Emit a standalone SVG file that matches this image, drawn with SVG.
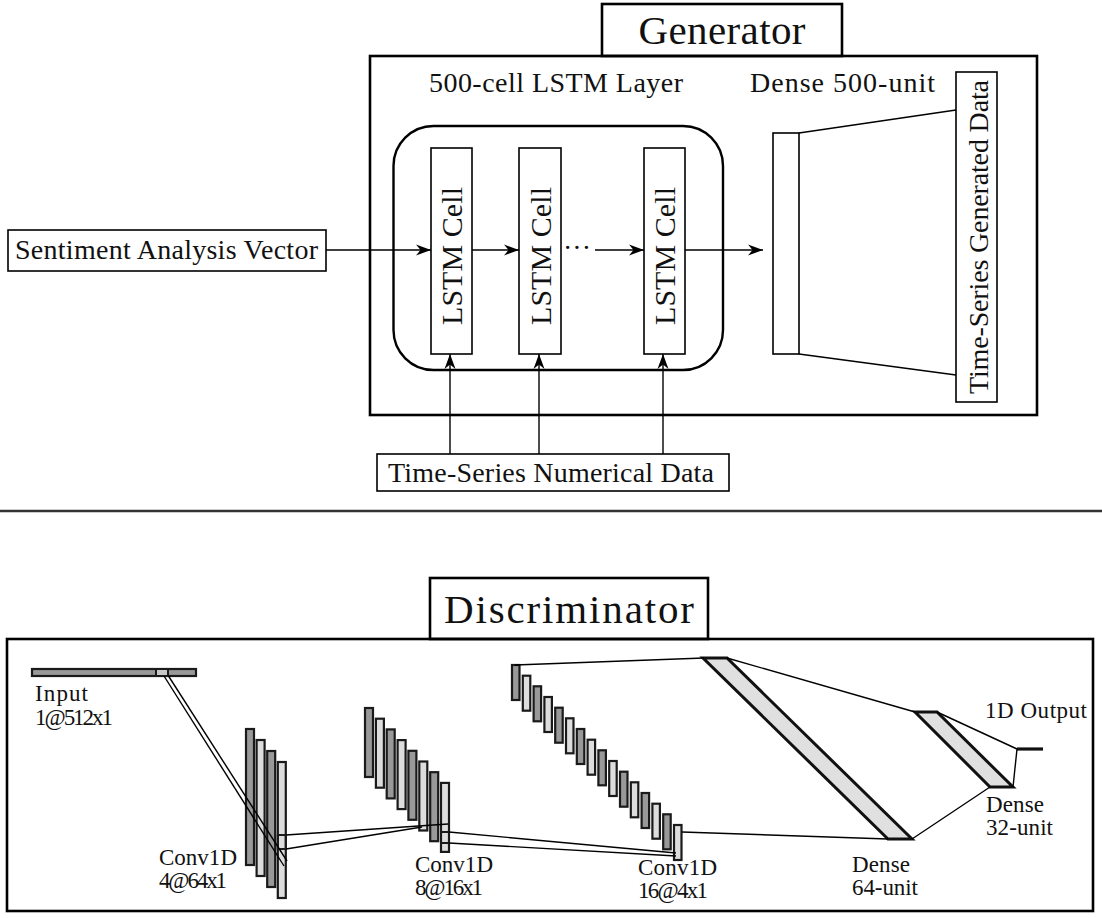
<svg xmlns="http://www.w3.org/2000/svg" width="1102" height="918" viewBox="0 0 1102 918">
<defs>
<marker id="arr" viewBox="-16 -8 18 16" refX="0" refY="0" markerWidth="18" markerHeight="16" markerUnits="userSpaceOnUse" orient="auto">
<path d="M0,0 L-15,-5.5 L-10.5,0 L-15,5.5 Z" fill="#000"/>
</marker>
</defs>
<style>
text{font-family:"Liberation Serif","Times New Roman",serif;fill:#111}
.t{font-size:41px}
.m{font-size:28px}
.c{font-size:30px}
.s{font-size:23px}
.box{fill:#fff;stroke:#000;stroke-width:1.6}
.outer{fill:none;stroke:#000;stroke-width:2.6}
.ln{fill:none;stroke:#000;stroke-width:1.4}
.ar{fill:none;stroke:#000;stroke-width:1.4;marker-end:url(#arr)}
.g{fill:#999;stroke:#1a1a1a;stroke-width:2.2}
.l{fill:#ddd;stroke:#1a1a1a;stroke-width:2.2}
.dn{fill:#e0e0e0;stroke:#111;stroke-width:3}
</style>
<rect width="1102" height="918" fill="#fff"/>

<!-- Generator -->
<g id="generator">
<rect class="outer" x="370" y="56" width="667" height="359"/>
<rect class="outer" x="602" y="4" width="240" height="52" fill="#fff"/>
<text class="t" x="722" y="44" text-anchor="middle" textLength="167">Generator</text>
<text class="m" x="429" y="92" textLength="254">500-cell LSTM Layer</text>
<text class="m" x="750" y="92" textLength="185">Dense 500-unit</text>
</g>
<g id="lstm-layer">
<rect x="393.5" y="126" width="329.5" height="244" rx="40" ry="40" fill="none" stroke="#000" stroke-width="2.4"/>
</g>
<g id="cell1">
<rect class="box" x="431" y="148" width="41" height="206"/>
<text class="c" transform="translate(462,256) rotate(-90)" text-anchor="middle" textLength="138">LSTM Cell</text>
</g>
<g id="cell2">
<rect class="box" x="519" y="148" width="42" height="206"/>
<text class="c" transform="translate(550.5,256) rotate(-90)" text-anchor="middle" textLength="138">LSTM Cell</text>
</g>
<g id="cell3">
<rect class="box" x="644" y="148" width="41" height="206"/>
<text class="c" transform="translate(675,256) rotate(-90)" text-anchor="middle" textLength="138">LSTM Cell</text>
</g>
<g id="dense500">
<rect class="box" x="773" y="133" width="26" height="221"/>
</g>
<g id="generated-data">
<rect class="box" x="956" y="72" width="41" height="330"/>
<text class="m" transform="translate(987.5,237) rotate(-90)" text-anchor="middle" textLength="314">Time-Series Generated Data</text>
</g>
<g id="sentiment">
<rect class="box" x="8" y="230" width="318" height="41"/>
<text class="m" x="15" y="259" textLength="303">Sentiment Analysis Vector</text>
</g>
<g id="numerical">
<rect class="box" x="377" y="454" width="352" height="37"/>
<text class="m" x="388" y="482" textLength="326">Time-Series Numerical Data</text>
</g>
<g id="gen-connectors">
<line class="ar" x1="326" y1="250" x2="431" y2="250"/>
<line class="ar" x1="472" y1="250" x2="519" y2="250"/>
<text class="m" x="577" y="257" text-anchor="middle">···</text>
<line class="ar" x1="595" y1="250" x2="644" y2="250"/>
<line class="ar" x1="685" y1="250" x2="763" y2="250"/>
<line class="ar" x1="450" y1="454" x2="450" y2="354"/>
<line class="ar" x1="539" y1="454" x2="539" y2="354"/>
<line class="ar" x1="663" y1="454" x2="663" y2="354"/>
<line class="ln" x1="799" y1="133" x2="956" y2="110"/>
<line class="ln" x1="799" y1="354" x2="956" y2="375"/>
</g>

<line x1="0" y1="511" x2="1102" y2="511" stroke="#333" stroke-width="2.5"/>

<!-- Discriminator -->
<g id="discriminator">
<rect class="outer" x="7" y="639" width="1086" height="272"/>
<rect class="outer" x="430" y="578" width="278" height="61" fill="#fff"/>
<text class="t" x="569" y="623" text-anchor="middle" textLength="250">Discriminator</text>
</g>
<g id="input">
<rect class="g" x="32" y="669" width="164" height="7"/>
<rect x="156" y="669" width="12" height="7" fill="#c8c8c8" stroke="#1a1a1a" stroke-width="2"/>
<text class="s" x="35" y="701" textLength="53">Input</text>
<text class="s" x="35" y="725" textLength="78">1@512x1</text>
</g>
<g id="conv1">
<rect class="g" x="246" y="729" width="8" height="136"/>
<rect class="l" x="256.6" y="740" width="8" height="136"/>
<rect class="g" x="267.2" y="751" width="8" height="136"/>
<rect class="l" x="277.8" y="762" width="8" height="136"/>
<rect x="277.8" y="835" width="8" height="14" fill="none" stroke="#1a1a1a" stroke-width="2"/>
<text class="s" x="159" y="865" textLength="78">Conv1D</text>
<text class="s" x="159" y="888" textLength="68">4@64x1</text>
</g>
<g id="conv2">
<rect class="g" x="365" y="708" width="8" height="69"/>
<rect class="l" x="375.9" y="718.7" width="8" height="69"/>
<rect class="g" x="386.7" y="729.4" width="8" height="69"/>
<rect class="l" x="397.6" y="740.1" width="8" height="69"/>
<rect class="g" x="408.4" y="750.8" width="8" height="69"/>
<rect class="l" x="419.3" y="761.5" width="8" height="69"/>
<rect class="g" x="430.2" y="772.2" width="8" height="69"/>
<rect class="l" x="441" y="782.9" width="8" height="69"/>
<rect x="441" y="832" width="8" height="11" fill="none" stroke="#1a1a1a" stroke-width="2"/>
<text class="s" x="415" y="872" textLength="78">Conv1D</text>
<text class="s" x="415" y="895" textLength="68">8@16x1</text>
</g>
<g id="conv3">
<rect class="g" x="512" y="665" width="7.5" height="35"/>
<rect class="l" x="522.8" y="675.7" width="7.5" height="35"/>
<rect class="g" x="533.6" y="686.3" width="7.5" height="35"/>
<rect class="l" x="544.4" y="697" width="7.5" height="35"/>
<rect class="g" x="555.2" y="707.7" width="7.5" height="35"/>
<rect class="l" x="566" y="718.3" width="7.5" height="35"/>
<rect class="g" x="576.8" y="729" width="7.5" height="35"/>
<rect class="l" x="587.6" y="739.7" width="7.5" height="35"/>
<rect class="g" x="598.4" y="750.3" width="7.5" height="35"/>
<rect class="l" x="609.2" y="761" width="7.5" height="35"/>
<rect class="g" x="620" y="771.7" width="7.5" height="35"/>
<rect class="l" x="630.8" y="782.3" width="7.5" height="35"/>
<rect class="g" x="641.6" y="793" width="7.5" height="35"/>
<rect class="l" x="652.4" y="803.7" width="7.5" height="35"/>
<rect class="g" x="663.2" y="814.3" width="7.5" height="35"/>
<rect class="l" x="674" y="825" width="7.5" height="35"/>
<text class="s" x="638" y="875" textLength="79">Conv1D</text>
<text class="s" x="638" y="898" textLength="70">16@4x1</text>
</g>
<g id="dense64">
<polygon class="dn" points="703,658 727,658 912,839 888,839"/>
<text class="s" x="852" y="872" textLength="58">Dense</text>
<text class="s" x="852" y="895" textLength="66">64-unit</text>
</g>
<g id="dense32">
<polygon class="dn" points="915,712 937,712 1013,787 990,787"/>
<text class="s" x="986" y="812" textLength="58">Dense</text>
<text class="s" x="986" y="835" textLength="67">32-unit</text>
</g>
<g id="output">
<line x1="1017" y1="749" x2="1043" y2="749" stroke="#111" stroke-width="3.2"/>
<text class="s" x="985" y="718" textLength="102">1D Output</text>
</g>
<g id="disc-connectors">
<line class="ln" x1="164" y1="676" x2="284" y2="866"/>
<line class="ln" x1="168.5" y1="676" x2="287" y2="861"/>
<line class="ln" x1="286" y1="835" x2="448" y2="824"/>
<line class="ln" x1="286" y1="849" x2="422" y2="827"/>
<line class="ln" x1="449" y1="832" x2="676" y2="853"/>
<line class="ln" x1="449" y1="843" x2="676" y2="856"/>
<line class="ln" x1="515" y1="665" x2="704" y2="658"/>
<line class="ln" x1="682" y1="832" x2="888" y2="839"/>
<line class="ln" x1="727" y1="658" x2="915" y2="712"/>
<line class="ln" x1="912" y1="839" x2="990" y2="787"/>
<line class="ln" x1="937" y1="712" x2="1017" y2="749"/>
<line class="ln" x1="1013" y1="787" x2="1017" y2="749"/>
</g>
</svg>
